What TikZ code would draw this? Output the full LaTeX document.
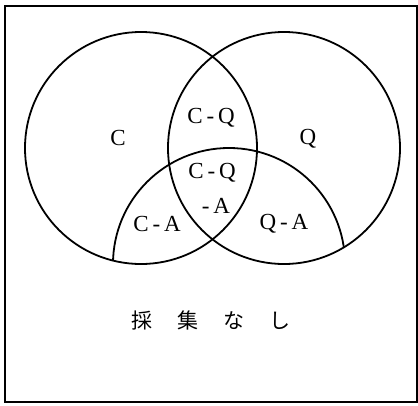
\documentclass[tikz,border=0pt]{standalone}
\usepackage{fontspec}
\setmainfont{Liberation Serif}
\newfontfamily\jpfont{Noto Sans CJK JP}
\tikzset{
  set/.style={line width=1.8pt},
  region/.style={font=\fontsize{23}{26}\selectfont, inner sep=0pt}
}
\begin{document}
\begin{tikzpicture}[x=1pt,y=-1pt]
\useasboundingbox (0,0) rectangle (418,405);
\draw[line width=1.3pt] (5,6) rectangle (417,402);
\draw[set] (141,148) circle (116);
\draw[set] (284,148) circle (116);
\begin{scope}
\clip (141,148) circle (116) (284,148) circle (116);
\draw[set] (229,264) circle (116);
\end{scope}
\node[region] (c) at (118,138) {C};
\node[region] (q) at (308,139) {Q};
\node[region] (cq) at (211,118) {C\,-\,Q};
\node[region] (cqa) at (212,173) {C\,-\,Q};
\node[region] (cqa2) at (216,206) {-\,A};
\node[region] (ca) at (157,224) {C\,-\,A};
\node[region] (qa) at (284,224) {Q\,-\,A};
\node[font=\jpfont\fontsize{21}{24}\selectfont, inner sep=0pt] (none) at (211,321) {採\hspace{25pt}集\hspace{25pt}な\hspace{25pt}し};
\end{tikzpicture}
\end{document}
